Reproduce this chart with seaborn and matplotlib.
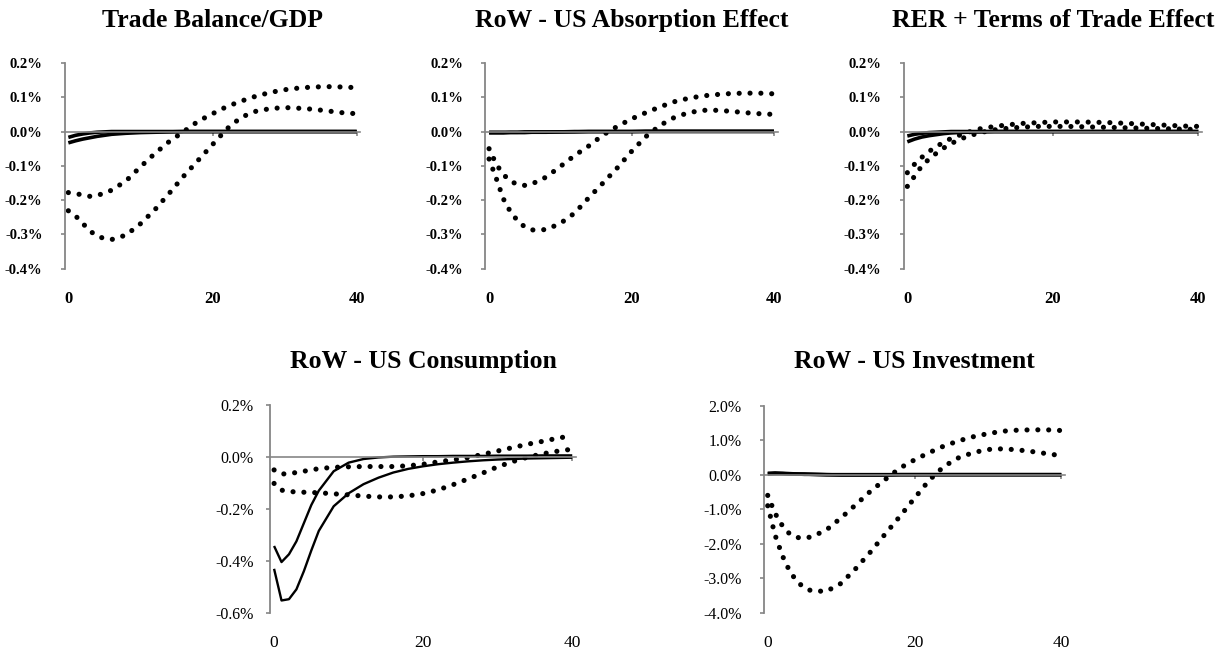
import matplotlib
matplotlib.use("Agg")
import matplotlib.pyplot as plt
import seaborn as sns

# ---- data (percent deviations) ----
periods = [0, 1, 2, 3, 4, 5, 6, 8, 10, 12, 14, 16, 18, 20, 22, 24, 26, 28, 30, 32, 34, 36, 38, 40]

# Trade Balance/GDP
tb_solid_a = [-0.017, -0.011, -0.007, -0.004, -0.002, -0.001, 0.0, 0.0, 0.0, 0.0, 0.0, 0.0,
              0.0, 0.0, 0.0, 0.0, 0.0, 0.0, 0.0, 0.0, 0.0, 0.0, 0.0, 0.0]
tb_solid_b = [-0.033, -0.027, -0.022, -0.018, -0.014, -0.011, -0.008, -0.005, -0.003, -0.002, -0.001, 0.0,
              0.0, 0.0, 0.0, 0.0, 0.0, 0.0, 0.0, 0.0, 0.0, 0.0, 0.0, 0.0]
tb_hi = [-0.178, -0.181, -0.185, -0.189, -0.186, -0.180, -0.171, -0.144, -0.103, -0.064, -0.029, 0.000,
         0.030, 0.052, 0.073, 0.089, 0.103, 0.114, 0.122, 0.127, 0.130, 0.131, 0.130, 0.128]
tb_lo = [-0.231, -0.246, -0.268, -0.290, -0.305, -0.312, -0.315, -0.302, -0.269, -0.228, -0.180, -0.130,
         -0.084, -0.038, 0.008, 0.042, 0.059, 0.067, 0.070, 0.068, 0.065, 0.060, 0.055, 0.052]

# RoW - US Absorption Effect
abs_solid_a = [-0.002, -0.002, -0.002, -0.002, -0.002, -0.001, -0.001, -0.001, -0.001, 0.0, 0.0, 0.0,
               0.0, 0.0, 0.0, 0.0, 0.0, 0.0, 0.0, 0.0, 0.0, 0.0, 0.0, 0.0]
abs_solid_b = [-0.004, -0.004, -0.004, -0.003, -0.003, -0.003, -0.002, -0.002, -0.001, -0.001, 0.0, 0.0,
               0.0, 0.0, 0.001, 0.001, 0.001, 0.001, 0.001, 0.001, 0.001, 0.001, 0.001, 0.001]
abs_hi = [-0.050, -0.095, -0.125, -0.145, -0.154, -0.157, -0.153, -0.133, -0.102, -0.070, -0.042, -0.010,
          0.015, 0.037, 0.055, 0.072, 0.087, 0.097, 0.104, 0.108, 0.111, 0.112, 0.112, 0.110]
abs_lo = [-0.080, -0.136, -0.196, -0.234, -0.260, -0.278, -0.287, -0.286, -0.268, -0.238, -0.193, -0.150,
          -0.106, -0.058, -0.015, 0.018, 0.041, 0.055, 0.062, 0.062, 0.059, 0.055, 0.052, 0.050]

# RER + Terms of Trade Effect
rer_solid_a = [-0.013, -0.008, -0.005, -0.003, -0.002, -0.001, 0.0, 0.0, 0.0, 0.0, 0.0, 0.0,
               0.0, 0.0, 0.0, 0.0, 0.0, 0.0, 0.0, 0.0, 0.0, 0.0, 0.0, 0.0]
rer_solid_b = [-0.030, -0.022, -0.016, -0.012, -0.009, -0.006, -0.004, -0.002, -0.001, 0.0, 0.0, 0.0,
               0.0, 0.0, 0.0, 0.0, 0.0, 0.0, 0.0, 0.0, 0.0, 0.0, 0.0, 0.0]
rer_hi = [-0.120, -0.095, -0.075, -0.058, -0.043, -0.032, -0.020, -0.004, 0.008, 0.015, 0.020, 0.024,
          0.026, 0.028, 0.028, 0.028, 0.027, 0.026, 0.024, 0.022, 0.020, 0.018, 0.016, 0.015]
rer_lo = [-0.160, -0.130, -0.100, -0.080, -0.063, -0.048, -0.035, -0.016, -0.003, 0.005, 0.010, 0.013,
          0.015, 0.015, 0.015, 0.014, 0.013, 0.012, 0.011, 0.010, 0.009, 0.008, 0.007, 0.006]

# RoW - US Consumption
con_solid_a = [-0.343, -0.405, -0.375, -0.325, -0.255, -0.185, -0.130, -0.055, -0.022, -0.008, -0.002, 0.001,
               0.002, 0.003, 0.003, 0.004, 0.004, 0.004, 0.005, 0.005, 0.005, 0.006, 0.006, 0.006]
con_solid_b = [-0.431, -0.553, -0.548, -0.510, -0.440, -0.360, -0.285, -0.190, -0.140, -0.105, -0.080, -0.060,
               -0.046, -0.036, -0.028, -0.022, -0.017, -0.013, -0.010, -0.008, -0.006, -0.005, -0.004, -0.003]
con_hi = [-0.050, -0.066, -0.064, -0.060, -0.055, -0.050, -0.045, -0.040, -0.038, -0.037, -0.037, -0.037,
          -0.034, -0.028, -0.019, -0.011, -0.003, 0.010, 0.023, 0.036, 0.049, 0.060, 0.072, 0.082]
con_lo = [-0.102, -0.128, -0.133, -0.135, -0.136, -0.137, -0.138, -0.142, -0.146, -0.151, -0.154, -0.154,
          -0.150, -0.141, -0.127, -0.107, -0.085, -0.062, -0.038, -0.018, -0.001, 0.012, 0.022, 0.030]

# RoW - US Investment
inv_solid_a = [0.04, 0.05, 0.04, 0.03, 0.02, 0.02, 0.01, 0.0, -0.01, -0.01, -0.01, -0.01,
               0.0, 0.0, 0.0, 0.0, 0.0, 0.0, 0.0, 0.0, 0.0, 0.0, 0.0, 0.0]
inv_solid_b = [0.02, 0.03, 0.03, 0.02, 0.02, 0.01, 0.01, 0.0, 0.0, 0.0, 0.0, 0.0,
               0.0, 0.0, 0.0, 0.0, 0.0, 0.0, 0.0, 0.0, 0.0, 0.0, 0.0, 0.0]
inv_hi = [-0.60, -1.12, -1.48, -1.72, -1.82, -1.84, -1.80, -1.60, -1.25, -0.87, -0.48, -0.14,
          0.19, 0.43, 0.64, 0.83, 0.98, 1.10, 1.19, 1.26, 1.29, 1.30, 1.30, 1.28]
inv_lo = [-0.90, -1.75, -2.35, -2.80, -3.10, -3.28, -3.37, -3.38, -3.15, -2.72, -2.24, -1.72,
          -1.21, -0.68, -0.16, 0.24, 0.49, 0.64, 0.73, 0.75, 0.72, 0.67, 0.61, 0.55]

top_ticks = [-0.4, -0.3, -0.2, -0.1, 0.0, 0.1, 0.2]
con_ticks = [-0.6, -0.4, -0.2, 0.0, 0.2]
inv_ticks = [-4.0, -3.0, -2.0, -1.0, 0.0, 1.0, 2.0]
x_ticks = [0, 20, 40]

titles = ["Trade Balance/GDP", "RoW - US Absorption Effect", "RER + Terms of Trade Effect",
          "RoW - US Consumption", "RoW - US Investment"]

# ---- style ----
sns.set_style("white")
plt.rcParams["font.family"] = ["Liberation Serif", "DejaVu Serif"]
plt.rcParams["text.color"] = "black"
plt.rcParams["xtick.labelcolor"] = "black"
plt.rcParams["ytick.labelcolor"] = "black"
GRAY = "#868686"
DOTTED = (0, (0.01, 2.1))

fig = plt.figure(figsize=(12.26, 6.52), dpi=100)


def draw_panel(rect, title, solids, bands, yticks, bold, solid_lw, ysize, xsize, ypad, title_pad):
    ax = fig.add_axes(rect)
    for s in solids:
        sns.lineplot(x=periods, y=s, ax=ax, color="black", linewidth=solid_lw,
                     solid_capstyle="butt")
    for b in bands:
        sns.lineplot(x=periods, y=b, ax=ax, color="black", linewidth=3.7,
                     linestyle=DOTTED, dash_capstyle="round")
    ax.set_xlim(-0.5, 40.5)
    ax.set_ylim(yticks[0], yticks[-1])
    ax.set_xlabel("")
    ax.set_ylabel("")
    weight = "bold" if bold else "normal"

    # y axis
    for side in ["top", "right"]:
        ax.spines[side].set_visible(False)
    ax.spines["left"].set_color(GRAY)
    ax.spines["left"].set_linewidth(1.3)
    ax.set_yticks(yticks, labels=[f"{v + 0:.1f}%" for v in yticks],
                  fontsize=ysize, fontweight=weight, color="black")
    ax.tick_params(axis="y", left=True, direction="out", length=3, width=1.2,
                   color=GRAY, pad=ypad)

    # horizontal axis line through zero, labels at the bottom
    ax.spines["bottom"].set_position(("data", 0))
    ax.spines["bottom"].set_color(GRAY)
    ax.spines["bottom"].set_linewidth(1.2)
    ax.set_xticks([20, 40])
    ax.tick_params(axis="x", bottom=True, direction="out", length=3, width=1.2,
                   color=GRAY, labelbottom=False)
    sec = ax.secondary_xaxis("bottom")
    sec.spines["bottom"].set_visible(False)
    sec.set_xticks(x_ticks, labels=[str(t) for t in x_ticks], fontsize=xsize,
                   fontweight=weight, color="black")
    sec.tick_params(length=0, pad=16)

    ax.set_title(title, fontsize=18.5, fontweight="bold", pad=title_pad, color="black")
    return ax


draw_panel([0.0528, 0.5879, 0.2411, 0.3155], titles[0], [tb_solid_a, tb_solid_b], [tb_hi, tb_lo],
           top_ticks, True, 2.6, 10.5, 12, 13, 26)
draw_panel([0.3960, 0.5879, 0.2382, 0.3155], titles[1], [abs_solid_a, abs_solid_b], [abs_hi, abs_lo],
           top_ticks, True, 2.6, 10.5, 12, 13, 26)
draw_panel([0.7371, 0.5879, 0.2433, 0.3155], titles[2], [rer_solid_a, rer_solid_b], [rer_hi, rer_lo],
           top_ticks, True, 2.6, 10.5, 12, 13, 26)
draw_panel([0.2205, 0.0603, 0.2493, 0.3185], titles[3], [con_solid_a, con_solid_b], [con_hi, con_lo],
           con_ticks, False, 1.7, 11.5, 12.5, 9, 27)
draw_panel([0.6232, 0.0603, 0.2455, 0.3175], titles[4], [inv_solid_a, inv_solid_b], [inv_hi, inv_lo],
           inv_ticks, False, 2.6, 11.5, 12.5, 13, 27)

fig.savefig("out.png", dpi=100)
